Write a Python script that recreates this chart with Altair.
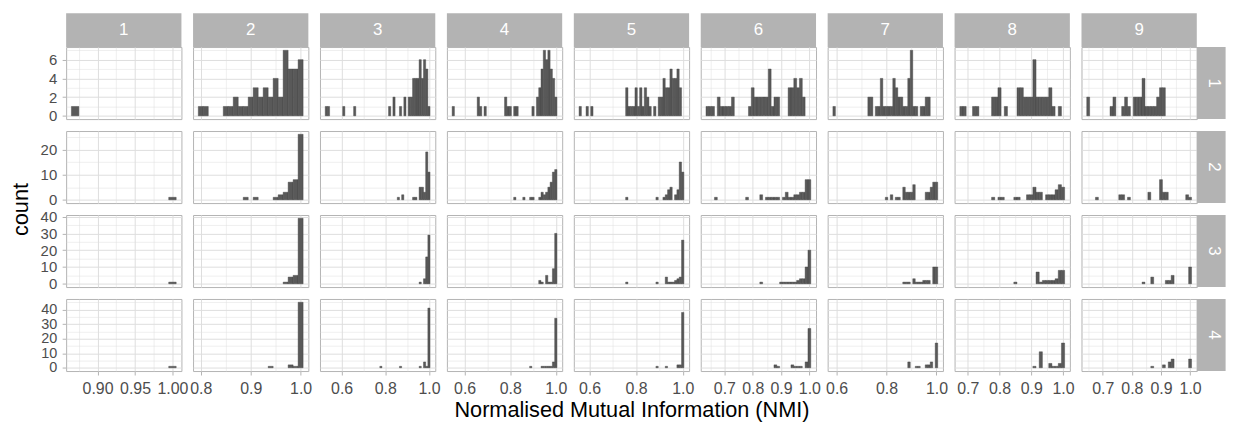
import math
import altair as alt
import pandas as pd

# ---------------- data: histogram counts (binwidth 0.01), key = bin centre NMI x 100
r1c1 = {87: 1}
r2c1 = {100: 1}
r3c1 = {100: 1}
r4c1 = {100: 1}

r1c2 = {80: 1, 81: 1, 85: 1, 86: 1, 87: 2, 88: 1, 89: 1, 90: 2, 91: 3, 92: 2, 93: 3,
        94: 2, 95: 4, 96: 2, 97: 7, 98: 5, 99: 5, 100: 6}
r2c2 = {89: 1, 91: 1, 95: 1, 96: 2, 97: 3, 98: 7, 99: 8, 100: 26}
r3c2 = {97: 1, 98: 4, 99: 5, 100: 39}
r4c2 = {94: 1, 98: 2, 99: 1, 100: 45}

r1c3 = {53: 1, 54: 1, 61: 1, 66: 1, 82: 1, 84: 2, 87: 1, 89: 2, 91: 2, 92: 2, 93: 4,
        94: 4, 95: 4, 96: 6, 97: 4, 98: 6, 99: 5, 100: 1}
r2c3 = {86: 1, 88: 2, 93: 1, 94: 1, 96: 5, 97: 5, 98: 3, 99: 19, 100: 11}
r3c3 = {96: 1, 98: 3, 99: 16, 100: 29}
r4c3 = {78: 1, 87: 1, 96: 1, 98: 4, 99: 1, 100: 41}

r1c4 = {55: 1, 66: 2, 67: 1, 69: 1, 78: 2, 79: 1, 80: 1, 82: 1, 83: 1, 90: 1, 92: 2,
        93: 3, 94: 5, 95: 7, 96: 6, 97: 7, 98: 5, 99: 4, 100: 2}
r2c4 = {82: 1, 86: 1, 89: 1, 90: 1, 93: 1, 94: 3, 95: 2, 96: 3, 97: 5, 98: 7, 99: 11, 100: 12}
r3c4 = {93: 2, 94: 1, 96: 5, 97: 1, 98: 1, 99: 9, 100: 30}
r4c4 = {89: 1, 94: 1, 95: 1, 96: 1, 97: 1, 98: 1, 99: 4, 100: 34}

r1c5 = {56: 1, 59: 1, 61: 1, 76: 3, 77: 1, 78: 1, 79: 1, 80: 3, 81: 1, 82: 3, 83: 1,
        84: 3, 85: 2, 86: 1, 88: 1, 90: 2, 91: 2, 92: 4, 93: 3, 94: 3, 95: 5, 96: 4,
        97: 4, 98: 5, 99: 3}
r2c5 = {76: 1, 89: 1, 92: 1, 93: 2, 94: 4, 95: 5, 97: 2, 98: 4, 99: 15, 100: 11}
r3c5 = {76: 1, 89: 1, 93: 4, 94: 1, 95: 1, 96: 1, 97: 2, 98: 3, 99: 4, 100: 26}
r4c5 = {89: 1, 93: 1, 98: 2, 99: 2, 100: 38}

r1c6 = {64: 1, 65: 1, 66: 1, 68: 2, 69: 1, 70: 1, 71: 1, 72: 1, 73: 2, 79: 1, 80: 3,
        81: 2, 82: 2, 83: 2, 84: 2, 85: 2, 86: 5, 87: 1, 88: 2, 89: 2, 93: 3, 94: 3,
        95: 4, 96: 3, 97: 4, 98: 2}
r2c6 = {67: 1, 78: 1, 83: 2, 85: 1, 86: 1, 87: 1, 88: 1, 89: 1, 91: 1, 92: 3, 93: 1,
        94: 1, 95: 2, 96: 2, 97: 3, 98: 3, 99: 8, 100: 8}
r3c6 = {83: 1, 90: 1, 91: 1, 92: 1, 93: 1, 94: 1, 95: 1, 96: 2, 97: 3, 98: 3, 99: 10, 100: 20}
r4c6 = {88: 2, 89: 1, 94: 2, 95: 1, 96: 1, 97: 1, 99: 4, 100: 27}

r1c7 = {59: 1, 73: 2, 74: 2, 76: 1, 77: 1, 78: 4, 79: 1, 80: 1, 81: 1, 82: 1, 83: 4,
        84: 3, 85: 2, 86: 2, 87: 1, 88: 1, 89: 4, 90: 7, 91: 1, 92: 1, 94: 1, 95: 1,
        96: 2, 97: 2}
r2c7 = {80: 1, 82: 2, 84: 1, 85: 1, 87: 5, 88: 3, 89: 3, 90: 3, 91: 6, 96: 3, 97: 3,
        98: 5, 99: 7, 100: 7}
r3c7 = {87: 1, 88: 1, 89: 1, 91: 3, 92: 1, 93: 1, 94: 1, 95: 2, 96: 2, 97: 2, 99: 10, 100: 10}
r4c7 = {89: 4, 92: 1, 93: 1, 96: 2, 97: 2, 98: 4, 100: 17}

r1c8 = {68: 1, 69: 1, 72: 1, 73: 1, 78: 2, 79: 2, 80: 3, 82: 1, 86: 3, 87: 3, 88: 2,
        89: 2, 90: 2, 91: 6, 92: 2, 93: 2, 94: 2, 95: 2, 96: 3, 97: 1, 99: 1}
r2c8 = {78: 1, 80: 1, 81: 1, 85: 1, 86: 1, 89: 2, 90: 2, 91: 5, 92: 3, 93: 3, 95: 2,
        96: 2, 97: 2, 98: 4, 99: 6, 100: 5}
r3c8 = {85: 1, 92: 7, 93: 1, 94: 2, 95: 2, 96: 2, 97: 2, 98: 3, 99: 8, 100: 8}
r4c8 = {91: 1, 93: 11, 96: 3, 97: 1, 98: 1, 99: 3, 100: 17}

r1c9 = {65: 2, 73: 1, 74: 2, 77: 1, 78: 2, 79: 1, 81: 2, 82: 2, 83: 2, 84: 4, 85: 1,
        86: 1, 87: 1, 88: 1, 89: 2, 90: 3, 91: 3}
r2c9 = {68: 1, 76: 2, 77: 2, 79: 1, 86: 3, 90: 8, 91: 3, 92: 3, 99: 2, 100: 1}
r3c9 = {84: 1, 87: 4, 92: 2, 93: 2, 94: 5, 100: 10}
r4c9 = {87: 1, 91: 2, 93: 4, 94: 6, 100: 6}

ROWS = [1, 2, 3, 4]
COLS = [1, 2, 3, 4, 5, 6, 7, 8, 9]
PANELS = {
    (1, 1): r1c1, (1, 2): r1c2, (1, 3): r1c3, (1, 4): r1c4, (1, 5): r1c5,
    (1, 6): r1c6, (1, 7): r1c7, (1, 8): r1c8, (1, 9): r1c9,
    (2, 1): r2c1, (2, 2): r2c2, (2, 3): r2c3, (2, 4): r2c4, (2, 5): r2c5,
    (2, 6): r2c6, (2, 7): r2c7, (2, 8): r2c8, (2, 9): r2c9,
    (3, 1): r3c1, (3, 2): r3c2, (3, 3): r3c3, (3, 4): r3c4, (3, 5): r3c5,
    (3, 6): r3c6, (3, 7): r3c7, (3, 8): r3c8, (3, 9): r3c9,
    (4, 1): r4c1, (4, 2): r4c2, (4, 3): r4c3, (4, 4): r4c4, (4, 5): r4c5,
    (4, 6): r4c6, (4, 7): r4c7, (4, 8): r4c8, (4, 9): r4c9,
}
X_STEP = {1: 0.05, 2: 0.1, 3: 0.2, 4: 0.2, 5: 0.2, 6: 0.1, 7: 0.2, 8: 0.1, 9: 0.1}
X_FMT = {1: ".2f", 2: ".1f", 3: ".1f", 4: ".1f", 5: ".1f", 6: ".1f", 7: ".1f", 8: ".1f", 9: ".1f"}
Y_STEP = {1: 2, 2: 10, 3: 10, 4: 10}
X_TITLE = "Normalised Mutual Information (NMI)"
Y_TITLE = "count"
BIN_W = 0.01

# ---------------- style
PW, PH = 116, 72.5
BAR = "#595959"
GRID = "#DEDEDE"
BORDER = "#B3B3B3"
STRIP = "#B3B3B3"
LABEL = "#4D4D4D"
FONT = "Liberation Sans"
X_TICK_FONT = 16
Y_TICK_FONT = {1: 15, 2: 15, 3: 15, 4: 14.5}
STRIP_W = 29


def frame(bins):
    keys = sorted(bins)
    return pd.DataFrame({
        "x0": [k / 100 - BIN_W / 2 for k in keys],
        "x1": [k / 100 + BIN_W / 2 for k in keys],
        "count": [bins[k] for k in keys],
    })


def expand(lo, hi):
    w = hi - lo
    return [lo - 0.05 * w, hi + 0.05 * w]


XDOM = {}
for c in COLS:
    fr = [frame(PANELS[(r, c)]) for r in ROWS]
    XDOM[c] = expand(min(f["x0"].min() for f in fr), max(f["x1"].max() for f in fr))
YDOM = {r: expand(0, max(max(PANELS[(r, c)].values()) for c in COLS)) for r in ROWS}


def breaks(dom, step):
    half = step / 2
    k0 = math.ceil(dom[0] / half - 1e-9)
    k1 = math.floor(dom[1] / half + 1e-9)
    return [round(k * half, 6) for k in range(k0, k1 + 1)]


def major_test(step):
    return f"abs(datum.value / {step} - round(datum.value / {step})) < 0.01"


def make_axis(dom, step, fmt, show, font_size, title=None, tx=None, ty=None, angle=0):
    test = major_test(step)
    kw = dict(
        values=breaks(dom, step), grid=True, gridColor=GRID,
        gridWidth={"condition": {"test": test, "value": 1.0}, "value": 0.5},
        domain=False, labels=show, ticks=show, title=title,
    )
    if show:
        kw.update(
            labelExpr=f"{test} ? format(datum.value, '{fmt}') : ''",
            tickColor=BORDER, tickSize=4,
            tickOpacity={"condition": {"test": test, "value": 1}, "value": 0},
            labelColor=LABEL, labelFontSize=font_size, labelPadding=5.5,
            labelOverlap=False, labelFlush=False,
        )
    if title is not None:
        kw.update(titleFontSize=21.8, titleFontWeight="normal", titleColor="black",
                  titleX=tx, titleY=ty, titleAlign="center", titleBaseline="alphabetic",
                  titleAngle=angle)
    return alt.Axis(**kw)


def cell(r, c):
    df = frame(PANELS[(r, c)])
    if r == 4 and c == 5:
        xaxis = make_axis(XDOM[c], X_STEP[c], X_FMT[c], True, X_TICK_FONT, X_TITLE, PW / 2, 45.5, 0)
    else:
        xaxis = make_axis(XDOM[c], X_STEP[c], X_FMT[c], r == 4, X_TICK_FONT)
    if r == 2 and c == 1:
        yaxis = make_axis(YDOM[r], Y_STEP[r], "d", True, Y_TICK_FONT[r], Y_TITLE, -39, 78.5, 270)
    else:
        yaxis = make_axis(YDOM[r], Y_STEP[r], "d", c == 1, Y_TICK_FONT[r])
    bars = alt.Chart(df).mark_rect(color=BAR, stroke="#3d3d3d", strokeWidth=0.4).encode(
        x=alt.X("x0:Q", scale=alt.Scale(domain=XDOM[c], nice=False, zero=False), axis=xaxis),
        x2=alt.X2("x1"),
        y=alt.Y("count:Q", scale=alt.Scale(domain=YDOM[r], nice=False, zero=False), axis=yaxis),
        y2=alt.datum(0),
    )
    layers = [bars]
    if r == 1:
        d = pd.DataFrame({"lab": [str(c)]})
        layers.append(alt.Chart(d).mark_rect(color=STRIP).encode(
            x=alt.value(0), x2=alt.value(PW), y=alt.value(-34), y2=alt.value(0)))
        layers.append(alt.Chart(d).mark_text(color="white", fontSize=17, align="center",
                                             baseline="middle", font=FONT).encode(
            x=alt.value(PW / 2), y=alt.value(-17), text="lab:N"))
    if c == 9:
        d = pd.DataFrame({"lab": [str(r)]})
        layers.append(alt.Chart(d).mark_rect(color=STRIP).encode(
            x=alt.value(PW), x2=alt.value(PW + STRIP_W), y=alt.value(0), y2=alt.value(PH)))
        layers.append(alt.Chart(d).mark_text(color="white", fontSize=17, align="center",
                                             baseline="middle", angle=90, font=FONT).encode(
            x=alt.value(PW + 17), y=alt.value(PH / 2), text="lab:N"))
    return alt.layer(*layers).properties(width=PW, height=PH)


cells = [cell(r, c) for r in ROWS for c in COLS]
chart = alt.concat(
    *cells, columns=9, spacing={"row": 11.5, "column": 11.7}, bounds="flush"
).properties(
    padding={"left": 1.5, "top": 3, "right": 0, "bottom": 0}
).configure(
    font=FONT, view=alt.ViewConfig(stroke=BORDER, strokeWidth=1)
)

chart.save("out.html", embed_options={"renderer": "svg", "actions": False})
